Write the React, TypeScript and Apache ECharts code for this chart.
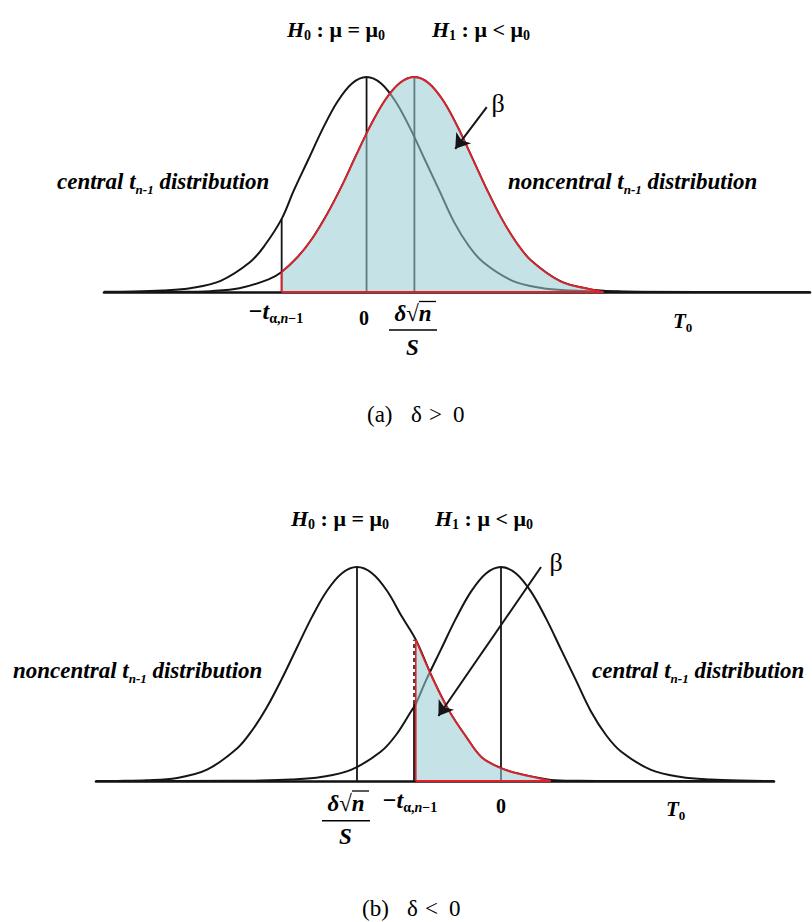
import React, { useEffect, useRef } from "react";
import * as echarts from "echarts";

const serif = '"Liberation Serif", "Times New Roman", Times, serif';

// ---------- Panel (a): δ > 0 (x in t units, y relative density) ----------
const aCentralX = [-4.5, -4, -3.5, -3, -2.5, -2, -1.75, -1.455, -1.25, -1, -0.75, -0.5, -0.25, 0, 0.25, 0.5, 0.75, 1, 1.25, 1.5, 1.75, 2, 2.5, 3, 3.5, 4, 4.5, 7.6];
const aCentralY = [0.001, 0.002, 0.007, 0.019, 0.052, 0.138, 0.215, 0.34, 0.47, 0.615, 0.76, 0.885, 0.97, 1, 0.97, 0.885, 0.76, 0.615, 0.47, 0.325, 0.215, 0.138, 0.052, 0.019, 0.007, 0.002, 0.001, 0];
const aNonX = [-4.5, -3.18, -2.68, -2.18, -1.68, -1.455, -1.18, -0.93, -0.68, -0.43, -0.18, 0.07, 0.32, 0.57, 0.82, 1.07, 1.32, 1.57, 1.82, 2.07, 2.32, 2.57, 2.82, 3.32, 3.82, 4.06, 4.32, 4.82, 7.6];
const aNonY = [0, 0.0007, 0.004, 0.017, 0.059, 0.093, 0.163, 0.249, 0.36, 0.49, 0.635, 0.775, 0.893, 0.972, 1, 0.97, 0.887, 0.763, 0.618, 0.472, 0.339, 0.229, 0.146, 0.05, 0.013, 0.006, 0.003, 0.0005, 0];
const aCrit = -1.455; // −t(α,n−1)
const aCentralMean = 0;
const aNonPeak = 0.82; // δ√n / S
const aBetaEnd = 4.06;
const aArrow = [[2.06, 0.86], [1.52, 0.666]];

// ---------- Panel (b): δ < 0 ----------
const bCentralX = [-6.75, -4.5, -4, -3.5, -3, -2.5, -2, -1.75, -1.5, -1.42, -1.25, -1, -0.75, -0.5, -0.25, 0, 0.25, 0.5, 0.75, 1, 1.25, 1.5, 1.75, 2, 2.5, 3, 3.5, 4, 4.55];
const bCentralY = [0, 0.001, 0.002, 0.007, 0.019, 0.052, 0.138, 0.215, 0.325, 0.36, 0.47, 0.615, 0.76, 0.885, 0.97, 1, 0.97, 0.885, 0.76, 0.615, 0.47, 0.325, 0.215, 0.138, 0.052, 0.019, 0.007, 0.002, 0];
const bNonX = [-6.75, -6.4, -5.9, -5.4, -4.9, -4.4, -4.15, -3.9, -3.65, -3.4, -3.15, -2.9, -2.65, -2.4, -2.15, -1.9, -1.65, -1.42, -1.15, -0.87, -0.58, -0.32, 0, 0.25, 0.52, 0.83, 1.3, 2.0, 4.55];
const bNonY = [0, 0.0005, 0.003, 0.014, 0.053, 0.152, 0.236, 0.346, 0.479, 0.624, 0.767, 0.889, 0.971, 1, 0.971, 0.889, 0.767, 0.66, 0.486, 0.33, 0.206, 0.11, 0.06, 0.037, 0.02, 0.005, 0.001, 0, 0];
const bCrit = -1.42;
const bCentralMean = 0;
const bNonPeak = -2.4;
const bBetaEnd = 0.83;
const bArrow = [[0.667, 1.0], [-1.043, 0.304]];

const BLACK = "#151515";
const RED = "#e3202a";
const FILL = "rgb(151,205,210)";

const pair = (xs: number[], ys: number[]) => xs.map((x, i) => [x, ys[i]]);
const valAt = (xs: number[], ys: number[], x: number) => ys[xs.indexOf(x)];

function curve(ax: number, data: number[][], color: string, width: number) {
  return {
    type: "line", xAxisIndex: ax, yAxisIndex: ax, data, symbol: "none", silent: true,
    smooth: 0.35,
    lineStyle: { color, width }, z: 3,
  };
}
function seg(ax: number, data: number[][], color: string, width: number, type: any = "solid", z = 4, extra: any = {}) {
  return {
    type: "line", xAxisIndex: ax, yAxisIndex: ax, data, symbol: "none", silent: true,
    lineStyle: { color, width, type }, z, ...extra,
  };
}
function arrowMark(arrow: number[][]) {
  return {
    markLine: {
      silent: true, symbol: ["none", "arrow"], symbolSize: 14, animation: false, z: 20,
      label: { show: false },
      lineStyle: { color: BLACK, width: 2, type: "solid", opacity: 1 },
      emphasis: { disabled: true },
      data: [[{ coord: arrow[0] }, { coord: arrow[1] }]],
    },
  };
}
function fillSeries(ax: number, xs: number[], ys: number[], x0: number, x1: number) {
  const data = pair(xs, ys).filter(([x]) => x >= x0 && x < x1).concat([[x1, 0]]);
  return {
    type: "line", xAxisIndex: ax, yAxisIndex: ax, data, symbol: "none", silent: true,
    smooth: 0.35,
    lineStyle: { color: RED, width: 1.8 },
    areaStyle: { color: FILL, opacity: 0.56 },
    z: 5,
  };
}

const tok = (size: number, style = "normal", weight = "bold", extra: any = {}) => ({
  fontFamily: serif, fontSize: size, fontStyle: style, fontWeight: weight,
  font: `${style} ${weight} ${size}px ${serif}`, fill: "#000", ...extra,
});
const titleRich = {
  h: tok(22, "italic", "bold", { lineHeight: 26 }),
  m: tok(22, "normal", "bold", { lineHeight: 26 }),
  s: tok(14, "normal", "bold", { lineHeight: 11, verticalAlign: "bottom" }),
};
const distRich = {
  m: tok(23, "italic", "bold", { lineHeight: 28 }),
  s: tok(13, "italic", "bold", { lineHeight: 11, verticalAlign: "bottom" }),
};
const critRich = {
  m: tok(24, "italic", "bold", { lineHeight: 28 }),
  sa: tok(14, "normal", "bold", { lineHeight: 11, verticalAlign: "bottom" }),
  si: tok(14, "italic", "bold", { lineHeight: 11, verticalAlign: "bottom" }),
};
const fracRich = {
  i: tok(23, "italic", "bold", { lineHeight: 28 }),
  r: tok(23, "normal", "bold", { lineHeight: 28 }),
};
const tRich = {
  t: tok(21, "italic", "bold", { lineHeight: 26 }),
  s: tok(13, "normal", "bold", { lineHeight: 10, verticalAlign: "bottom" }),
};

function txt(x: number, y: number, text: string, rich: any, align = "left", font = `bold 20px ${serif}`) {
  return {
    type: "text", x, y, silent: true, z: 100,
    style: {
      text, rich, font, fill: "#000",
      align, verticalAlign: "middle", textAlign: align, textVerticalAlign: "middle",
    },
  };
}
function hline(x1: number, x2: number, y: number, w = 1.5) {
  return { type: "line", silent: true, z: 100, shape: { x1, y1: y, x2, y2: y }, style: { stroke: "#000", lineWidth: w } };
}
const CAP = `normal 23px ${serif}`;

export default function App() {
  const ref = useRef<HTMLDivElement>(null);
  useEffect(() => {
    document.body.style.margin = "0";
    const chart = echarts.init(ref.current!, null, { renderer: "svg" });
    const aCritC = valAt(aCentralX, aCentralY, aCrit);
    const aCritN = valAt(aNonX, aNonY, aCrit);
    const bCritC = valAt(bCentralX, bCentralY, bCrit);
    const bCritN = valAt(bNonX, bNonY, bCrit);
    const aPeak = Math.max(...aCentralY);
    const bPeak = Math.max(...bCentralY);

    const axisX = (gridIndex: number, min: number, max: number) => ({
      type: "value", gridIndex, min, max,
      axisLine: { show: true, onZero: true, lineStyle: { color: "#111", width: 2.6 } },
      axisTick: { show: false }, axisLabel: { show: false }, splitLine: { show: false },
    });
    const axisY = (gridIndex: number) => ({
      type: "value", gridIndex, min: 0, max: 1, show: false,
      axisLine: { show: false }, splitLine: { show: false },
    });

    chart.setOption({
      animation: false,
      backgroundColor: "#fff",
      grid: [
        { left: 104, top: 77, width: 706, height: 215 },
        { left: 96, top: 567, width: 678, height: 214 },
      ],
      xAxis: [axisX(0, -4.5, 7.6), axisX(1, -6.75, 4.55)],
      yAxis: [axisY(0), axisY(1)],
      series: [
        // panel (a)
        curve(0, pair(aCentralX, aCentralY), BLACK, 2),
        curve(0, pair(aNonX, aNonY), BLACK, 2),
        seg(0, [[aCentralMean, 0], [aCentralMean, aPeak]], BLACK, 1.8),
        seg(0, [[aNonPeak, 0], [aNonPeak, aPeak]], BLACK, 1.8),
        seg(0, [[aCrit, 0], [aCrit, aCritC]], BLACK, 1.8),
        fillSeries(0, aNonX, aNonY, aCrit, aBetaEnd),
        seg(0, [[aCrit, 0], [aCrit, aCritN]], RED, 1.8, "solid", 6),
        seg(0, [[aCrit, 0], [aBetaEnd, 0]], RED, 2, "solid", 6, arrowMark(aArrow)),
        // panel (b)
        curve(1, pair(bCentralX, bCentralY), BLACK, 2),
        curve(1, pair(bNonX, bNonY), BLACK, 2),
        seg(1, [[bCentralMean, 0], [bCentralMean, bPeak]], BLACK, 1.8),
        seg(1, [[bNonPeak, 0], [bNonPeak, bPeak]], BLACK, 1.8),
        seg(1, [[bCrit - 0.03, 0], [bCrit - 0.03, bCritC]], BLACK, 1.8),
        seg(1, [[bCrit - 0.03, bCritC], [bCrit - 0.03, bCritN]], BLACK, 1.6, [4, 3]),
        fillSeries(1, bNonX, bNonY, bCrit, bBetaEnd),
        seg(1, [[bCrit, 0], [bCrit, bCritN]], RED, 1.6, "solid", 6),
        seg(1, [[bCrit, 0], [bBetaEnd, 0]], RED, 2, "solid", 6, arrowMark(bArrow)),
      ],
      graphic: [
        // ---- panel (a) texts ----
        txt(287, 29, "{h|H}{s|0}{m| : μ = μ}{s|0}", titleRich),
        txt(432, 29, "{h|H}{s|1}{m| : μ < μ}{s|0}", titleRich),
        txt(57, 181.5, "{m|central t}{s|n-1}{m| distribution}", distRich),
        txt(508, 181.5, "{m|noncentral t}{s|n-1}{m| distribution}", distRich),
        txt(498, 103, "β", null, "center", `normal 26px ${serif}`),
        txt(248, 311, "{m|−t}{sa|α,}{si|n}{sa|−1}", critRich),
        txt(364, 317.5, "0", null, "center", `bold 20px ${serif}`),
        txt(413, 313.5, "{i|δ}{r|√}{i|n}", fracRich, "center"),
        hline(389, 437, 330),
        hline(419, 436, 301.5, 1.3),
        txt(412.5, 347.5, "S", null, "center", `italic bold 23px ${serif}`),
        txt(673, 320.5, "{t|T}{s|0}", tRich),
        txt(367, 414.5, "(a)", null, "left", CAP),
        txt(411, 414.5, "δ", null, "left", CAP),
        txt(429, 414.5, ">", null, "left", CAP),
        txt(453, 414.5, "0", null, "left", CAP),
        // ---- panel (b) texts ----
        txt(291, 518, "{h|H}{s|0}{m| : μ = μ}{s|0}", titleRich),
        txt(435, 518, "{h|H}{s|1}{m| : μ < μ}{s|0}", titleRich),
        txt(13, 670.5, "{m|noncentral t}{s|n-1}{m| distribution}", distRich),
        txt(592, 670.5, "{m|central t}{s|n-1}{m| distribution}", distRich),
        txt(556, 562, "β", null, "center", `normal 26px ${serif}`),
        txt(346, 803, "{i|δ}{r|√}{i|n}", fracRich, "center"),
        hline(322, 370, 820.7),
        hline(352, 369, 791, 1.3),
        txt(345.5, 836.5, "S", null, "center", `italic bold 23px ${serif}`),
        txt(382, 800, "{m|−t}{sa|α,}{si|n}{sa|−1}", critRich),
        txt(501, 805.5, "0", null, "center", `bold 20px ${serif}`),
        txt(666, 809, "{t|T}{s|0}", tRich),
        txt(362, 908, "(b)", null, "left", CAP),
        txt(407, 908, "δ", null, "left", CAP),
        txt(425, 908, "<", null, "left", CAP),
        txt(449, 908, "0", null, "left", CAP),
      ],
    });
    return () => chart.dispose();
  }, []);
  return <div ref={ref} style={{ width: 812, height: 922 }} />;
}
